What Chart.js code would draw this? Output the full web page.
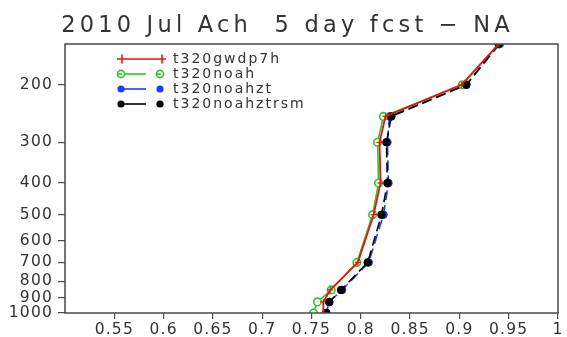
<!DOCTYPE html>
<html>
<head>
<meta charset="utf-8">
<script src="https://cdn.jsdelivr.net/npm/chart.js@4/dist/chart.umd.min.js"></script>
<style>
  html, body { margin: 0; padding: 0; background: #ffffff; }
  #wrap { width: 567px; height: 337px; }
</style>
</head>
<body>
<div id="wrap"><canvas id="c" width="567" height="337"></canvas></div>
<script>
// Anomaly correlation profile by pressure level
const titleText = '2010 Jul Ach  5 day fcst \u2212 NA';
const levels = [150, 200, 250, 300, 400, 500, 700, 850, 925, 1000];
const pressureTicks = [200, 300, 400, 500, 600, 700, 800, 900, 1000];
const accTicks = [0.55, 0.6, 0.65, 0.7, 0.75, 0.8, 0.85, 0.9, 0.95, 1];

const seriesNames = ['t320gwdp7h', 't320noah', 't320noahzt', 't320noahztrsm'];
const t320gwdp7h    = [0.940, 0.902, 0.825, 0.819, 0.820, 0.813, 0.797, 0.769, 0.762, 0.762];
const t320noah      = [0.940, 0.903, 0.823, 0.817, 0.818, 0.812, 0.796, 0.770, 0.756, 0.752];
const t320noahzt    = [0.941, 0.907, 0.829, 0.827, 0.828, 0.823, 0.808, 0.781, 0.768, 0.765];
const t320noahztrsm = [0.940, 0.907, 0.831, 0.826, 0.827, 0.821, 0.807, 0.780, 0.768, 0.765];

const RED = 'rgb(232,18,18)';
const GREEN = 'rgb(40,200,40)';
const BLUE = 'rgb(30,60,250)';
const BLACK = '#000000';
const AXIS = '#4a4a4a';
const TEXT = '#333333';

const toPoints = vals => vals.map((v, i) => ({ x: v, y: levels[i] }));

const datasets = [
  {
    label: seriesNames[0], data: toPoints(t320gwdp7h), order: 0,
    borderColor: RED, borderWidth: 1.8, showLine: true,
    pointStyle: 'cross', pointRadius: 3, pointBorderColor: RED, pointBorderWidth: 1.2,
    pointBackgroundColor: RED
  },
  {
    label: seriesNames[1], data: toPoints(t320noah), order: 2,
    borderColor: GREEN, borderWidth: 1.6, showLine: true,
    pointStyle: 'circle', pointRadius: 3.8, pointBorderColor: GREEN, pointBorderWidth: 1.6,
    pointBackgroundColor: '#ffffff'
  },
  {
    label: seriesNames[2], data: toPoints(t320noahzt), order: 3,
    borderColor: BLUE, borderWidth: 1.6, borderDash: [10, 5], showLine: true,
    pointStyle: 'circle', pointRadius: 3.8, pointBorderColor: BLUE, pointBorderWidth: 1,
    pointBackgroundColor: BLUE
  },
  {
    label: seriesNames[3], data: toPoints(t320noahztrsm), order: 1,
    borderColor: BLACK, borderWidth: 1.6, borderDash: [10, 5], showLine: true,
    pointStyle: 'circle', pointRadius: 3.8, pointBorderColor: BLACK, pointBorderWidth: 1,
    pointBackgroundColor: BLACK
  }
];

const tickFont = { family: '"DejaVu Sans", sans-serif', size: 15.5 };

// Frame, title and the in-plot key
const decorations = {
  id: 'decorations',
  beforeDraw(chart) {
    chart.ctx.letterSpacing = '1.2px';
  },
  afterDraw(chart) {
    const ctx = chart.ctx;
    const a = chart.chartArea;
    ctx.save();
    ctx.letterSpacing = '0px';
    ctx.strokeStyle = AXIS;
    ctx.lineWidth = 1.5;
    ctx.setLineDash([]);
    ctx.strokeRect(a.left, a.top, a.right - a.left, a.bottom - a.top);

    // title
    ctx.font = '22.5px "DejaVu Sans", sans-serif';
    ctx.letterSpacing = '4.2px';
    ctx.fillStyle = TEXT;
    ctx.textBaseline = 'alphabetic';
    ctx.textAlign = 'left';
    const tw = ctx.measureText(titleText).width;
    ctx.fillText(titleText, chart.width / 2 - tw / 2 + 4, 32);

    // key
    ctx.font = '14px "DejaVu Sans", sans-serif';
    ctx.letterSpacing = '2px';
    ctx.textBaseline = 'middle';
    chart.data.datasets.forEach((ds, i) => {
      const y = 59 + i * 15;
      const xl = 121, xr = 160;
      ctx.strokeStyle = ds.borderColor;
      ctx.fillStyle = ds.borderColor;
      ctx.lineWidth = 1.6;
      ctx.setLineDash([]);
      ctx.beginPath();
      if (ds.pointStyle === 'cross') {
        ctx.moveTo(117, y); ctx.lineTo(166, y);
        ctx.moveTo(xl + 1, y - 4.5); ctx.lineTo(xl + 1, y + 4.5);
        ctx.moveTo(xr + 2, y - 4.5); ctx.lineTo(xr + 2, y + 4.5);
        ctx.stroke();
      } else {
        ctx.moveTo(xl + 3, y); ctx.lineTo(146, y);
        ctx.stroke();
        [xl, xr].forEach(px => {
          ctx.beginPath();
          ctx.arc(px, y, 3.6, 0, Math.PI * 2);
          if (ds.pointBackgroundColor === '#ffffff') {
            ctx.fillStyle = '#ffffff';
            ctx.fill();
            ctx.stroke();
            ctx.beginPath();
            ctx.moveTo(px - 3, y); ctx.lineTo(px + 1, y);
            ctx.stroke();
          } else {
            ctx.fillStyle = ds.borderColor;
            ctx.fill();
          }
        });
      }
      ctx.fillStyle = TEXT;
      ctx.fillText(ds.label, 173, y + 0.5);
    });
    ctx.restore();
  }
};

new Chart(document.getElementById('c'), {
  type: 'scatter',
  data: { datasets },
  options: {
    responsive: false,
    devicePixelRatio: 1,
    animation: false,
    layout: { padding: { top: 44, right: 9, left: 0, bottom: 0 } },
    plugins: { legend: { display: false }, tooltip: { enabled: false }, title: { display: false } },
    scales: {
      x: {
        type: 'linear', position: 'bottom', min: 0.5, max: 1.0,
        border: { display: false },
        grid: { drawOnChartArea: false, drawTicks: true, tickLength: 6, color: AXIS, lineWidth: 1.2 },
        ticks: {
          font: tickFont, color: TEXT, padding: 2, maxRotation: 0, autoSkip: false,
          callback: v => String(v)
        },
        afterBuildTicks: s => { s.ticks = accTicks.map(v => ({ value: v })); },
        afterFit: s => { s.height = 24; }
      },
      y: {
        type: 'logarithmic', position: 'left', reverse: true, min: 150, max: 1000,
        border: { display: false },
        grid: { drawOnChartArea: false, drawTicks: true, tickLength: 7, color: AXIS, lineWidth: 1.2 },
        ticks: {
          font: tickFont, color: TEXT, padding: 5, autoSkip: false,
          callback: v => String(v)
        },
        afterBuildTicks: s => { s.ticks = pressureTicks.map(v => ({ value: v })); },
        afterFit: s => { s.width = 65; }
      }
    }
  },
  plugins: [decorations]
});
</script>
</body>
</html>
